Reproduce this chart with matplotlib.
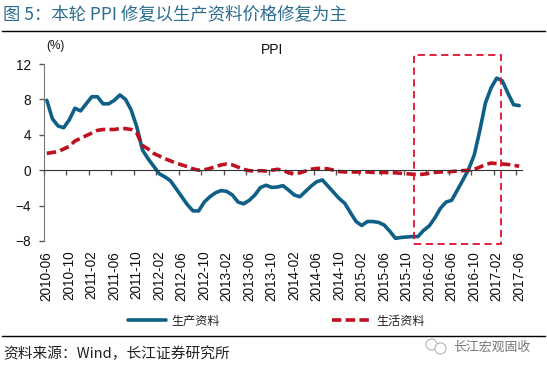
import matplotlib
matplotlib.use('Agg')
import matplotlib.pyplot as plt
import numpy as np
from matplotlib.patches import Rectangle
from matplotlib.lines import Line2D

plt.rcParams['font.family'] = ['Liberation Sans', 'Noto Sans CJK SC']

# monthly, 2010-06 to 2017-06
producer = [7.9, 5.8, 5.0, 4.8, 5.7, 7.0, 6.7, 7.5, 8.3, 8.3, 7.5, 7.5, 7.9, 8.5, 8.0, 6.8, 4.9, 2.3, 1.3,
            0.45, -0.4, -0.75, -1.2, -2.1, -3.0, -3.9, -4.6, -4.6, -3.6, -3.0, -2.55, -2.3, -2.4, -2.8, -3.6,
            -3.8, -3.4, -2.8, -1.95, -1.7, -1.95, -1.9, -1.75, -2.25, -2.8, -3.0, -2.4, -1.8, -1.3, -1.1, -1.8,
            -2.5, -3.2, -3.75, -4.8, -5.8, -6.25, -5.8, -5.8, -5.9, -6.2, -6.9, -7.7, -7.6, -7.55, -7.5, -7.5,
            -6.8, -6.3, -5.4, -4.3, -3.6, -3.4, -2.25, -1.1, 0.1, 1.7, 4.5, 7.6, 9.3, 10.4, 10.1, 8.7, 7.4, 7.3]
consumer = [1.9, 2.0, 2.1, 2.4, 2.7, 3.3, 3.6, 3.9, 4.2, 4.5, 4.6, 4.6, 4.6, 4.7, 4.7, 4.6, 4.2, 2.8, 2.4,
            1.9, 1.6, 1.3, 1.05, 0.8, 0.6, 0.4, 0.15, 0.0, 0.05, 0.2, 0.4, 0.6, 0.7, 0.6, 0.35, 0.1, -0.05, -0.1,
            -0.05, -0.1, 0.0, 0.1, 0.0, -0.3, -0.4, -0.3, -0.1, 0.1, 0.2, 0.2, 0.15, 0.0, -0.15, -0.2, -0.2, -0.2,
            -0.2, -0.2, -0.25, -0.25, -0.25, -0.3, -0.3, -0.35, -0.4, -0.45, -0.5, -0.45, -0.35, -0.25, -0.2, -0.2,
            -0.15, -0.1, -0.05, 0.0, 0.1, 0.35, 0.65, 0.8, 0.75, 0.7, 0.65, 0.55, 0.45]
tick_labels = ['2010-06', '2010-10', '2011-02', '2011-06', '2011-10', '2012-02', '2012-06', '2012-10',
               '2013-02', '2013-06', '2013-10', '2014-02', '2014-06', '2014-10', '2015-02', '2015-06',
               '2015-10', '2016-02', '2016-06', '2016-10', '2017-02', '2017-06']
y_ticks = [12, 8, 4, 0, -4, -8]

W, H = 547, 371
blue = '#0f5f86'
red = '#c00f1e'
dash = (0, (2.6, 1.2))
fig = plt.figure(figsize=(W / 100, H / 100), dpi=100)
ax = fig.add_axes([44 / W, 1 - 241 / H, 478 / W, 177 / H])

# category axis: points sit in the middle of each month's slot
months = np.arange(len(producer)) + 0.5
ax.plot(months, producer, color=blue, lw=2.6, solid_capstyle='round', solid_joinstyle='round')
ax.plot(months, consumer, color=red, lw=2.6, ls=dash)

ax.set_xlim(0, 85)
ax.set_ylim(-8, 12)
ax.set_yticks(y_ticks)
ax.set_xticks(range(0, 85, 4))
ax.set_xticklabels([])
ax.set_xticks(months[::4], labels=tick_labels, minor=True)
ax.tick_params(axis='x', which='major', direction='out', length=3.5, width=1, color='#555555')
ax.tick_params(axis='x', which='minor', length=0, pad=58, labelsize=9.8, labelcolor='#111111', labelrotation=90)
ax.tick_params(axis='y', direction='out', length=3.5, width=1, color='#555555', labelsize=9.8, pad=6,
               labelcolor='#111111')
for s in ['top', 'right']:
    ax.spines[s].set_visible(False)
ax.spines['left'].set_color('#777777')
ax.spines['bottom'].set_color('#333333')
ax.spines['bottom'].set_position(('data', 0))


def fx(px):
    return px / W


def fy(py):
    return 1 - py / H


# title, rules, notes
fig.text(fx(3), fy(14), '图 5：本轮 PPI 修复以生产资料价格修复为主', fontsize=12.5, color='#2b6d8f',
         va='center', family=['Noto Sans CJK SC', 'Liberation Sans'])
fig.add_artist(Line2D([fx(2), fx(545)], [fy(31), fy(31)], color='black', lw=1))
fig.add_artist(Line2D([fx(2), fx(545)], [fy(336), fy(336)], color='black', lw=1))
fig.text(fx(46), fy(46), '(%)', fontsize=8.5, va='center', color='#111111')
fig.text(fx(272), fy(50), 'PPI', fontsize=10, ha='center', va='center', color='#111111')
fig.text(fx(3), fy(354), '资料来源：Wind，长江证券研究所', fontsize=10.6, va='center', color='#222222',
         family=['Noto Sans CJK SC', 'Liberation Sans'])

# dashed box round the recovery
fig.add_artist(Rectangle((fx(414), fy(244)), 86.5 / W, 189 / H, fill=False, ec='#e0102f', lw=1.3,
                         ls=(0, (4, 2.5))))

# legend
fig.add_artist(Line2D([fx(128), fx(166)], [fy(320), fy(320)], color=blue, lw=2.6, solid_capstyle='round'))
fig.text(fx(171), fy(322), '生产资料', fontsize=8.7, va='center', color='#222222')
fig.add_artist(Line2D([fx(332), fx(371)], [fy(320), fy(320)], color=red, lw=2.6, ls=dash))
fig.text(fx(376), fy(322), '生活资料', fontsize=8.7, va='center', color='#222222')

# watermark
fig.text(fx(453), fy(347), '长江宏观固收', fontsize=9.3, va='center', color='#777777')
fig.add_artist(Line2D([fx(431)], [fy(344)], marker='o', ms=8, mfc='white', mec='#aaaaaa', mew=0.7))
fig.add_artist(Line2D([fx(440)], [fy(348)], marker='o', ms=8, mfc='white', mec='#aaaaaa', mew=0.7))

fig.savefig('out.png', dpi=100)
